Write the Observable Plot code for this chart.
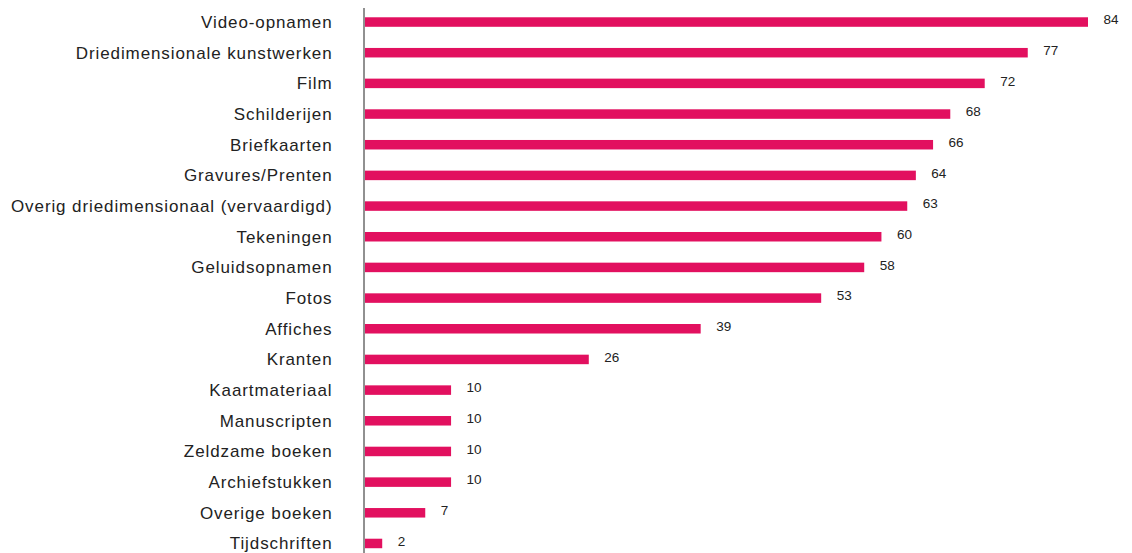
<!DOCTYPE html>
<html>
<head>
<meta charset="utf-8">
<script src="https://cdn.jsdelivr.net/npm/d3@7"></script>
<script src="https://cdn.jsdelivr.net/npm/@observablehq/plot@0.6"></script>
<style>
  html, body { margin: 0; padding: 0; background: #fff; }
  #chart svg { display: block; }
  .ylab text { letter-spacing: 0.9px; }
</style>
</head>
<body>
<div id="chart"></div>
<script>
const categories = [
  "Video-opnamen",
  "Driedimensionale kunstwerken",
  "Film",
  "Schilderijen",
  "Briefkaarten",
  "Gravures/Prenten",
  "Overig driedimensionaal (vervaardigd)",
  "Tekeningen",
  "Geluidsopnamen",
  "Fotos",
  "Affiches",
  "Kranten",
  "Kaartmateriaal",
  "Manuscripten",
  "Zeldzame boeken",
  "Archiefstukken",
  "Overige boeken",
  "Tijdschriften"
];
const values = [84, 77, 72, 68, 66, 64, 63, 60, 58, 53, 39, 26, 10, 10, 10, 10, 7, 2];

const data = categories.map((c, i) => ({category: c, value: values[i]}));

const chart = Plot.plot({
  width: 1132,
  height: 553,
  marginLeft: 365,
  marginRight: 44,
  marginTop: 8,
  marginBottom: 0,
  style: {fontFamily: "'Liberation Sans', Arial, sans-serif", color: "#222"},
  x: {domain: [0, 84], axis: null},
  y: {domain: categories, range: [6.7, 558.8], paddingInner: 0.69, paddingOuter: 0.345, round: false, label: null},
  marks: [
    Plot.barX(data, {x: "value", y: "category", fill: "#e2105f"}),
    Plot.text(data, {x: "value", y: "category", text: d => String(d.value), textAnchor: "start", dx: 15, dy: -2.5, fontSize: 13.5, fill: "#222"}),
    Plot.ruleX([0], {stroke: "#222", strokeWidth: 1, dx: -1.5}),
    Plot.axisY({tickSize: 0, tickPadding: 33, fontSize: 17, label: null, className: "ylab", fill: "#222"})
  ]
});
document.getElementById("chart").appendChild(chart);
</script>
</body>
</html>
